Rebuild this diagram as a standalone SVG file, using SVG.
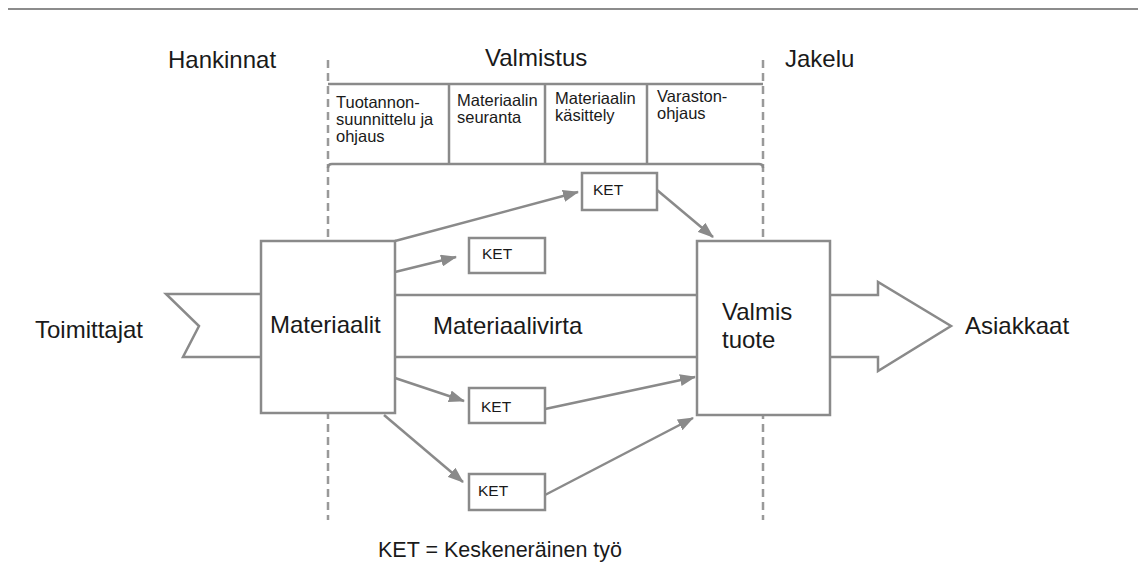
<svg xmlns="http://www.w3.org/2000/svg" width="1138" height="579" viewBox="0 0 1138 579">
<defs>
<marker id="ah" markerUnits="userSpaceOnUse" markerWidth="16" markerHeight="12" refX="15" refY="6" orient="auto">
<path d="M0,0 L16,6 L0,12 z" fill="#8a8a8a"/>
</marker>
<style>
text{font-family:"Liberation Sans",Arial,sans-serif;fill:#1a1a1a}
.big{font-size:24px}
.sm{font-size:16.5px}
.ket{font-size:15.5px}
.box{fill:#fff;stroke:#8a8a8a;stroke-width:2.5}
.ln{fill:none;stroke:#8a8a8a;stroke-width:2.5}
.dash{fill:none;stroke:#999;stroke-width:2.5;stroke-dasharray:8 5}
.conn{fill:none;stroke:#8a8a8a;stroke-width:2.5;marker-end:url(#ah)}
</style>
</defs>
<rect width="1138" height="579" fill="#fff"/>
<line x1="8" y1="9" x2="1138" y2="9" stroke="#8c8c8c" stroke-width="2"/>

<g id="phases">
<text class="big" x="168" y="68">Hankinnat</text>
<text class="big" x="485" y="66">Valmistus</text>
<text class="big" x="785" y="67">Jakelu</text>
<line class="dash" x1="328" y1="60" x2="328" y2="520"/>
<line class="dash" x1="763" y1="60" x2="763" y2="520"/>
</g>

<g id="table">
<line class="ln" x1="328" y1="84" x2="763" y2="84"/>
<path class="ln" d="M328,168 Q328,164 332,164 L759,164 Q763,164 763,168"/>
<line class="ln" x1="449" y1="84" x2="449" y2="164"/>
<line class="ln" x1="545" y1="84" x2="545" y2="164"/>
<line class="ln" x1="647" y1="84" x2="647" y2="164"/>
<text class="sm" x="336" y="108">Tuotannon-</text>
<text class="sm" x="336" y="125">suunnittelu ja</text>
<text class="sm" x="336" y="142">ohjaus</text>
<text class="sm" x="457" y="106">Materiaalin</text>
<text class="sm" x="457" y="123">seuranta</text>
<text class="sm" x="555" y="104">Materiaalin</text>
<text class="sm" x="555" y="121">käsittely</text>
<text class="sm" x="657" y="102">Varaston-</text>
<text class="sm" x="657" y="119">ohjaus</text>
</g>

<g id="toimittajat">
<text class="big" x="35" y="338">Toimittajat</text>
<path class="ln" d="M261,294 L166,294 L199,326 L183,357 L261,357"/>
</g>

<g id="virta">
<line class="ln" x1="395" y1="295" x2="697" y2="295"/>
<line class="ln" x1="395" y1="357" x2="697" y2="357"/>
<text class="big" x="433" y="334">Materiaalivirta</text>
</g>

<g id="asiakkaat">
<path class="ln" d="M830,295 L878,295 L878,282 L951,326 L878,371 L878,357 L830,357"/>
<text class="big" x="965" y="334">Asiakkaat</text>
</g>

<g id="materiaalit">
<rect class="box" x="261" y="241" width="134" height="172"/>
<text class="big" x="270" y="333">Materiaalit</text>
</g>

<g id="valmis">
<rect class="box" x="697" y="241" width="133" height="174"/>
<text class="big" x="722" y="320">Valmis</text>
<text class="big" x="722" y="348">tuote</text>
</g>

<g id="ket1">
<rect class="box" x="582" y="173" width="75" height="37"/>
<text class="ket" x="593" y="195">KET</text>
</g>
<g id="ket2">
<rect class="box" x="469" y="238" width="76" height="35"/>
<text class="ket" x="482" y="259">KET</text>
</g>
<g id="ket3">
<rect class="box" x="469" y="388" width="76" height="35"/>
<text class="ket" x="481" y="412">KET</text>
</g>
<g id="ket4">
<rect class="box" x="469" y="474" width="76" height="36"/>
<text class="ket" x="478" y="496">KET</text>
</g>

<g id="connectors">
<line class="conn" x1="395" y1="241" x2="578" y2="192"/>
<line class="conn" x1="395" y1="272" x2="456" y2="257"/>
<line class="conn" x1="657" y1="190" x2="713" y2="237"/>
<line class="conn" x1="395" y1="378" x2="464" y2="401"/>
<line class="conn" x1="545" y1="409" x2="695" y2="377"/>
<line class="conn" x1="384" y1="415" x2="463" y2="482"/>
<line class="conn" x1="545" y1="495" x2="693" y2="418"/>
</g>

<g id="legend">
<text x="378" y="557" style="font-size:21.5px">KET = Keskeneräinen työ</text>
</g>
</svg>
